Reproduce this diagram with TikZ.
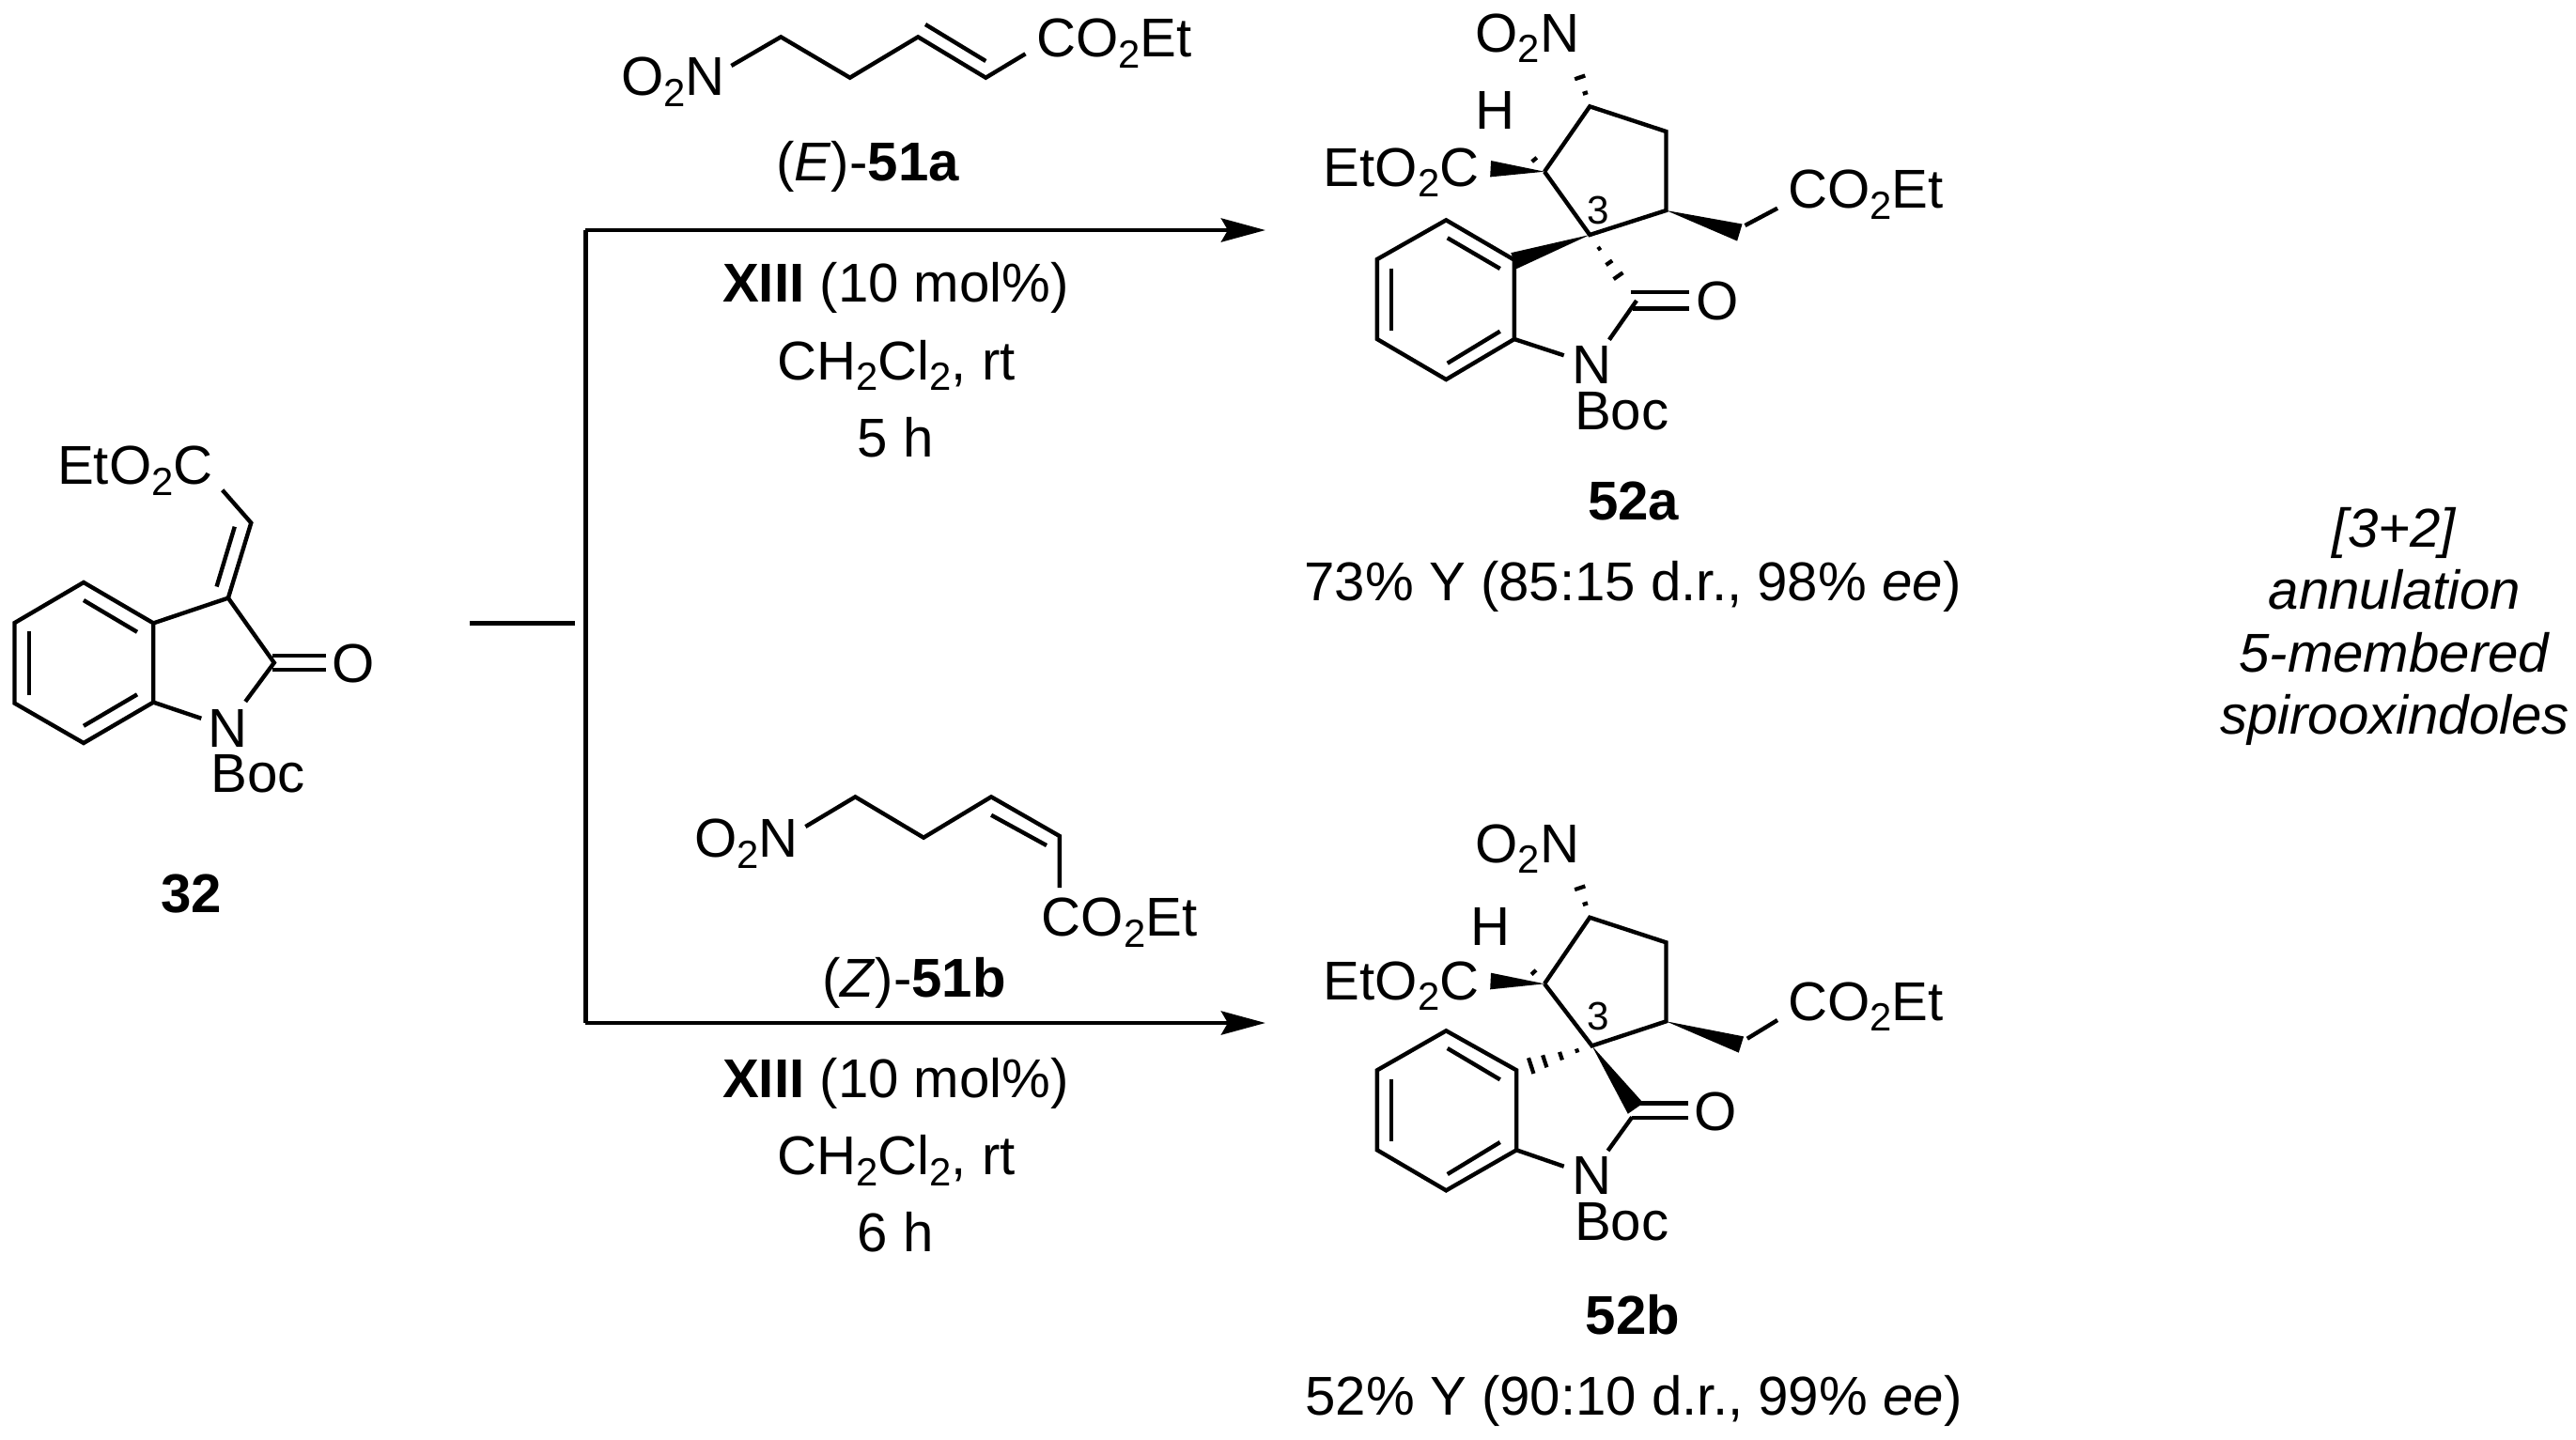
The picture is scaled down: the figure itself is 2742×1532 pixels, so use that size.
\documentclass[tikz,border=0pt]{standalone}
\usepackage{fontspec}
\setmainfont{Liberation Sans}
\usepackage{tikz}
\usetikzlibrary{calc,arrows.meta}

\tikzset{
    bond/.style={line width=1.25pt},
    arrowline/.style={line width=1.4pt},
    atom/.style={anchor=base west, inner sep=0pt, xshift=-0.03cm},
    label/.style={anchor=base, inner sep=0pt},
    locant/.style={anchor=base, inner sep=0pt, font=\fontsize{12}{14}\selectfont}
}
\newcommand{\subnum}[1]{\raisebox{-0.2em}{\fontsize{11.9}{12}\selectfont #1}}
\newcommand{\wedgebond}[3]{\fill (#1) -- ($(#2)!#3!90:(#1)$) -- ($(#2)!#3!-90:(#1)$) -- cycle;}
\newcommand{\hashbond}[4]{\foreach \t in {#4} {\draw[line width=1.2pt] ($(#1)!\t!(#2)!\t*#3!90:(#2)$) -- ($(#1)!\t!(#2)!\t*#3!-90:(#2)$);}}

\begin{document}
\begin{tikzpicture}[x=0.01cm, y=-0.01cm, every node/.style={font=\fontsize{16.55}{20}\selectfont}]
        \useasboundingbox (0,0) rectangle (2742,1532);

        % Starting oxindole
        \coordinate (s1) at (89,620);
        \coordinate (s2) at (163.3,663.4);
        \coordinate (s3) at (163.3,747.6);
        \coordinate (s4) at (89,791);
        \coordinate (s5) at (15.5,748.6);
        \coordinate (s6) at (15.5,663.1);
        \coordinate (sc3) at (242.9,636.6);
        \coordinate (sc2) at (291.8,705.5);
        \coordinate (sn) at (214.3,764.8);
        \coordinate (sn2) at (261.2,746.9);
        \coordinate (sexo) at (267.3,556.6);
        \coordinate (sester) at (236.7,521.7);
        \draw[bond] (s1) -- (s2) -- (s3) -- (s4) -- (s5) -- (s6) -- cycle;
        \draw[bond] (89,639) coordinate (si1) -- (146,672.8) coordinate (si2);
        \draw[bond] (31,671.7) coordinate (si3) -- (31,740) coordinate (si4);
        \draw[bond] (89,772.8) coordinate (si5) -- (146,739.3) coordinate (si6);
        \draw[bond] (s2) -- (sc3) -- (sc2) -- (sn2);
        \draw[bond] (s3) -- (sn);
        \draw[bond] (sc3) -- (sexo) -- (sester);
        \draw[bond] (249.8,560.7) coordinate (sd1) -- (230.6,624.5) coordinate (sd2);
        \draw[bond] (289.8,697.9) coordinate (so1) -- (346.9,697.9) coordinate (so2);
        \draw[bond] (289.8,713.1) coordinate (so3) -- (346.9,713.1) coordinate (so4);
        \node[atom] (sesterlabel) at (63.3,515.9) {EtO\subnum{2}C};
        \node[label] (soxo) at (376.3,726.2) {O};
        \node[label] (snlabel) at (243,795.2) {N};
        \node[atom] (sboc) at (226.5,843.4) {Boc};
        \node[label] (sname) at (204,971) {\textbf{32}};

        % Branching arrows
        \coordinate (stub1) at (500,663.4);
        \coordinate (stub2) at (612,663.4);
        \coordinate (top) at (623.4,245);
        \coordinate (bottom) at (623.4,1089);
        \coordinate (topend) at (1347,245);
        \coordinate (bottomend) at (1347,1089);
        \draw[arrowline] (stub1) -- (stub2);
        \draw[arrowline] (top) -- (bottom);
        \draw[arrowline, -{Stealth[length=0.47cm, width=0.25cm, inset=0.07cm]}] (top) -- (topend);
        \draw[arrowline, -{Stealth[length=0.47cm, width=0.25cm, inset=0.07cm]}] (bottom) -- (bottomend);

        % (E) nitroolefin
        \coordinate (e1) at (778.4,70);
        \coordinate (e2) at (831.2,39.3);
        \coordinate (e3) at (904.7,82.7);
        \coordinate (e4) at (977.2,39.3);
        \coordinate (e5) at (1049.3,82.7);
        \coordinate (e6) at (1091.5,57.3);
        \coordinate (ed1) at (985,26);
        \coordinate (ed2) at (1049.3,65);
        \draw[bond] (e1) -- (e2) -- (e3) -- (e4) -- (e5) -- (e6);
        \draw[bond] (ed1) -- (ed2);
        \node[atom] (eno) at (663.6,101.7) {O\subnum{2}N};
        \node[atom] (eester) at (1105.3,60.7) {CO\subnum{2}Et};
        \node[label] (ename) at (923.7,192.7) {(\textit{E})-\textbf{51a}};

        % (Z) nitroolefin
        \coordinate (z1) at (857.4,880);
        \coordinate (z2) at (910.4,848.3);
        \coordinate (z3) at (983.1,891.7);
        \coordinate (z4) at (1055.1,848.3);
        \coordinate (z5) at (1127.8,890);
        \coordinate (z6) at (1127.8,945);
        \coordinate (zd1) at (1055.1,867.7);
        \coordinate (zd2) at (1114,900);
        \draw[bond] (z1) -- (z2) -- (z3) -- (z4) -- (z5) -- (z6);
        \draw[bond] (zd1) -- (zd2);
        \node[atom] (zno) at (741.5,912.7) {O\subnum{2}N};
        \node[atom] (zester) at (1111.2,996.7) {CO\subnum{2}Et};
        \node[label] (zname) at (973,1061.7) {(\textit{Z})-\textbf{51b}};

        % Conditions
        \node[label] (ta) at (953.5,321.7) {\textbf{XIII} (10 mol\%)};
        \node[label] (tb) at (954,404) {CH\subnum{2}Cl\subnum{2}, rt};
        \node[label] (tc) at (953,486.7) {5 h};
        \node[label] (ba) at (953.5,1168.3) {\textbf{XIII} (10 mol\%)};
        \node[label] (bb) at (954,1250.7) {CH\subnum{2}Cl\subnum{2}, rt};
        \node[label] (bc) at (953,1332.7) {6 h};

        % Product 52a
        \coordinate (a4) at (1692.2,113.3);
        \coordinate (a5) at (1773.5,140);
        \coordinate (a6) at (1773.5,224);
        \coordinate (a3) at (1692.2,250);
        \coordinate (a7) at (1644,182.7);
        \coordinate (a11) at (1539.3,234.3);
        \coordinate (a12) at (1611.9,276.7);
        \coordinate (a13) at (1611.9,361);
        \coordinate (a14) at (1539.3,404);
        \coordinate (a15) at (1465.9,361);
        \coordinate (a16) at (1465.9,276);
        \coordinate (a2) at (1742,320);
        \coordinate (an1) at (1712.9,361.7);
        \coordinate (an2) at (1664.7,378.3);
        \coordinate (ano) at (1676.1,65.7);
        \coordinate (ah) at (1616.4,150);
        \coordinate (aest) at (1586.6,179.7);
        \coordinate (aar) at (1611.2,277.7);
        \coordinate (ahc) at (1732.6,308.3);
        \coordinate (aw) at (1851.8,247.5);
        \coordinate (aw2) at (1857.5,240);
        \coordinate (ace) at (1892,221.7);
        \draw[bond] (a7) -- (a4) -- (a5) -- (a6) -- (a3) -- (a7);
        \draw[bond] (a11) -- (a12) -- (a13) -- (a14) -- (a15) -- (a16) -- cycle;
        \draw[bond] (1540.7,253.3) coordinate (ai1) -- (1596.7,286) coordinate (ai2);
        \draw[bond] (1481,285.7) coordinate (ai3) -- (1481,351.7) coordinate (ai4);
        \draw[bond] (1540.7,386.7) coordinate (ai5) -- (1596.7,352.7) coordinate (ai6);
        \draw[bond] (a13) -- (an2);
        \draw[bond] (a2) -- (an1);
        \draw[bond] (aw2) -- (ace);
        \draw[bond] (1735.8,310.7) coordinate (ao1) -- (1797.8,310.7) coordinate (ao2);
        \draw[bond] (1738.1,328.3) coordinate (ao3) -- (1797.8,328.3) coordinate (ao4);
        \wedgebond{a3}{aar}{0.09cm}
        \wedgebond{a7}{aest}{0.087cm}
        \wedgebond{a6}{aw}{0.094cm}
        \hashbond{a4}{ano}{0.09cm}{0.3,0.65,1}
        \hashbond{a7}{ah}{0.085cm}{0.39,1}
        \hashbond{a3}{ahc}{0.08cm}{0.25,0.51,0.75,1}
        \node[atom] (aesterl) at (1411.2,198.3) {EtO\subnum{2}C};
        \node[atom] (anol) at (1572.8,55) {O\subnum{2}N};
        \node[label] (ahl) at (1591.2,137.3) {H};
        \node[atom] (acel) at (1905.7,221.7) {CO\subnum{2}Et};
        \node[locant] (athree) at (1701.4,238.3) {3};
        \node[label] (aoxo) at (1827.7,340) {O};
        \node[label] (anl) at (1694.5,408.3) {N};
        \node[atom] (aboc) at (1678.4,457.3) {Boc};
        \node[label] (aname) at (1738.8,553.3) {\textbf{52a}};
        \node[label] (ayield) at (1738,639.3) {73\% Y (85:15 d.r., 98\% \textit{ee})};

        % Product 52b
        \coordinate (b4) at (1692.2,976.7);
        \coordinate (b5) at (1773.5,1003.3);
        \coordinate (b6) at (1773.5,1087.3);
        \coordinate (b3) at (1694.5,1113.3);
        \coordinate (b7) at (1644,1047.3);
        \coordinate (b11) at (1539.3,1097.3);
        \coordinate (b12) at (1614.2,1139.3);
        \coordinate (b13) at (1614.2,1224.3);
        \coordinate (b14) at (1539.3,1267.3);
        \coordinate (b15) at (1465.9,1224.3);
        \coordinate (b16) at (1465.9,1139.3);
        \coordinate (b2) at (1737.2,1189.3);
        \coordinate (bcw) at (1741,1180);
        \coordinate (bn1) at (1711.5,1225);
        \coordinate (bn2) at (1664.7,1241.7);
        \coordinate (bno) at (1676.1,928.3);
        \coordinate (bh) at (1614.6,1016);
        \coordinate (best) at (1586.6,1044.5);
        \coordinate (bar) at (1628.4,1135);
        \coordinate (bw) at (1853.4,1112);
        \coordinate (bw2) at (1859.8,1105.7);
        \coordinate (bce) at (1892,1086);
        \draw[bond] (b7) -- (b4) -- (b5) -- (b6) -- (b3) -- (b7);
        \draw[bond] (b11) -- (b12) -- (b13) -- (b14) -- (b15) -- (b16) -- cycle;
        \draw[bond] (1540.7,1116) coordinate (bi1) -- (1596.7,1149.3) coordinate (bi2);
        \draw[bond] (1481,1149.3) coordinate (bi3) -- (1481,1215) coordinate (bi4);
        \draw[bond] (1540.7,1250) coordinate (bi5) -- (1596.7,1216) coordinate (bi6);
        \draw[bond] (b13) -- (bn2);
        \draw[bond] (b2) -- (bn1);
        \draw[bond] (bw2) -- (bce);
        \draw[bond] (1745,1174.3) coordinate (bo1) -- (1796.9,1174.3) coordinate (bo2);
        \draw[bond] (1737.2,1190) coordinate (bo3) -- (1796.9,1190) coordinate (bo4);
        \wedgebond{b3}{bcw}{0.1cm}
        \wedgebond{b7}{best}{0.088cm}
        \wedgebond{b6}{bw}{0.09cm}
        \hashbond{b4}{bno}{0.09cm}{0.3,0.65,1}
        \hashbond{b7}{bh}{0.085cm}{0.39,1}
        \hashbond{b3}{bar}{0.09cm}{0.24,0.5,0.76,0.98}
        \node[atom] (besterl) at (1411.2,1064) {EtO\subnum{2}C};
        \node[atom] (bnol) at (1572.8,918.3) {O\subnum{2}N};
        \node[label] (bhl) at (1586.6,1006) {H};
        \node[atom] (bcel) at (1905.7,1086) {CO\subnum{2}Et};
        \node[locant] (bthree) at (1701.4,1096) {3};
        \node[label] (boxo) at (1826.3,1203.3) {O};
        \node[label] (bnl) at (1694.5,1271.7) {N};
        \node[atom] (bboc) at (1678.4,1320) {Boc};
        \node[label] (bname) at (1738,1420) {\textbf{52b}};
        \node[label] (byield) at (1739,1506.7) {52\% Y (90:10 d.r., 99\% \textit{ee})};

        % Side note
        \node[label] (n1) at (2549,582.7) {\textit{[3+2]}};
        \node[label] (n2) at (2549,648.3) {\textit{annulation}};
        \node[label] (n3) at (2549,715) {\textit{5-membered}};
        \node[label] (n4) at (2549,781.7) {\textit{spirooxindoles}};
    \end{tikzpicture}
\end{document}
